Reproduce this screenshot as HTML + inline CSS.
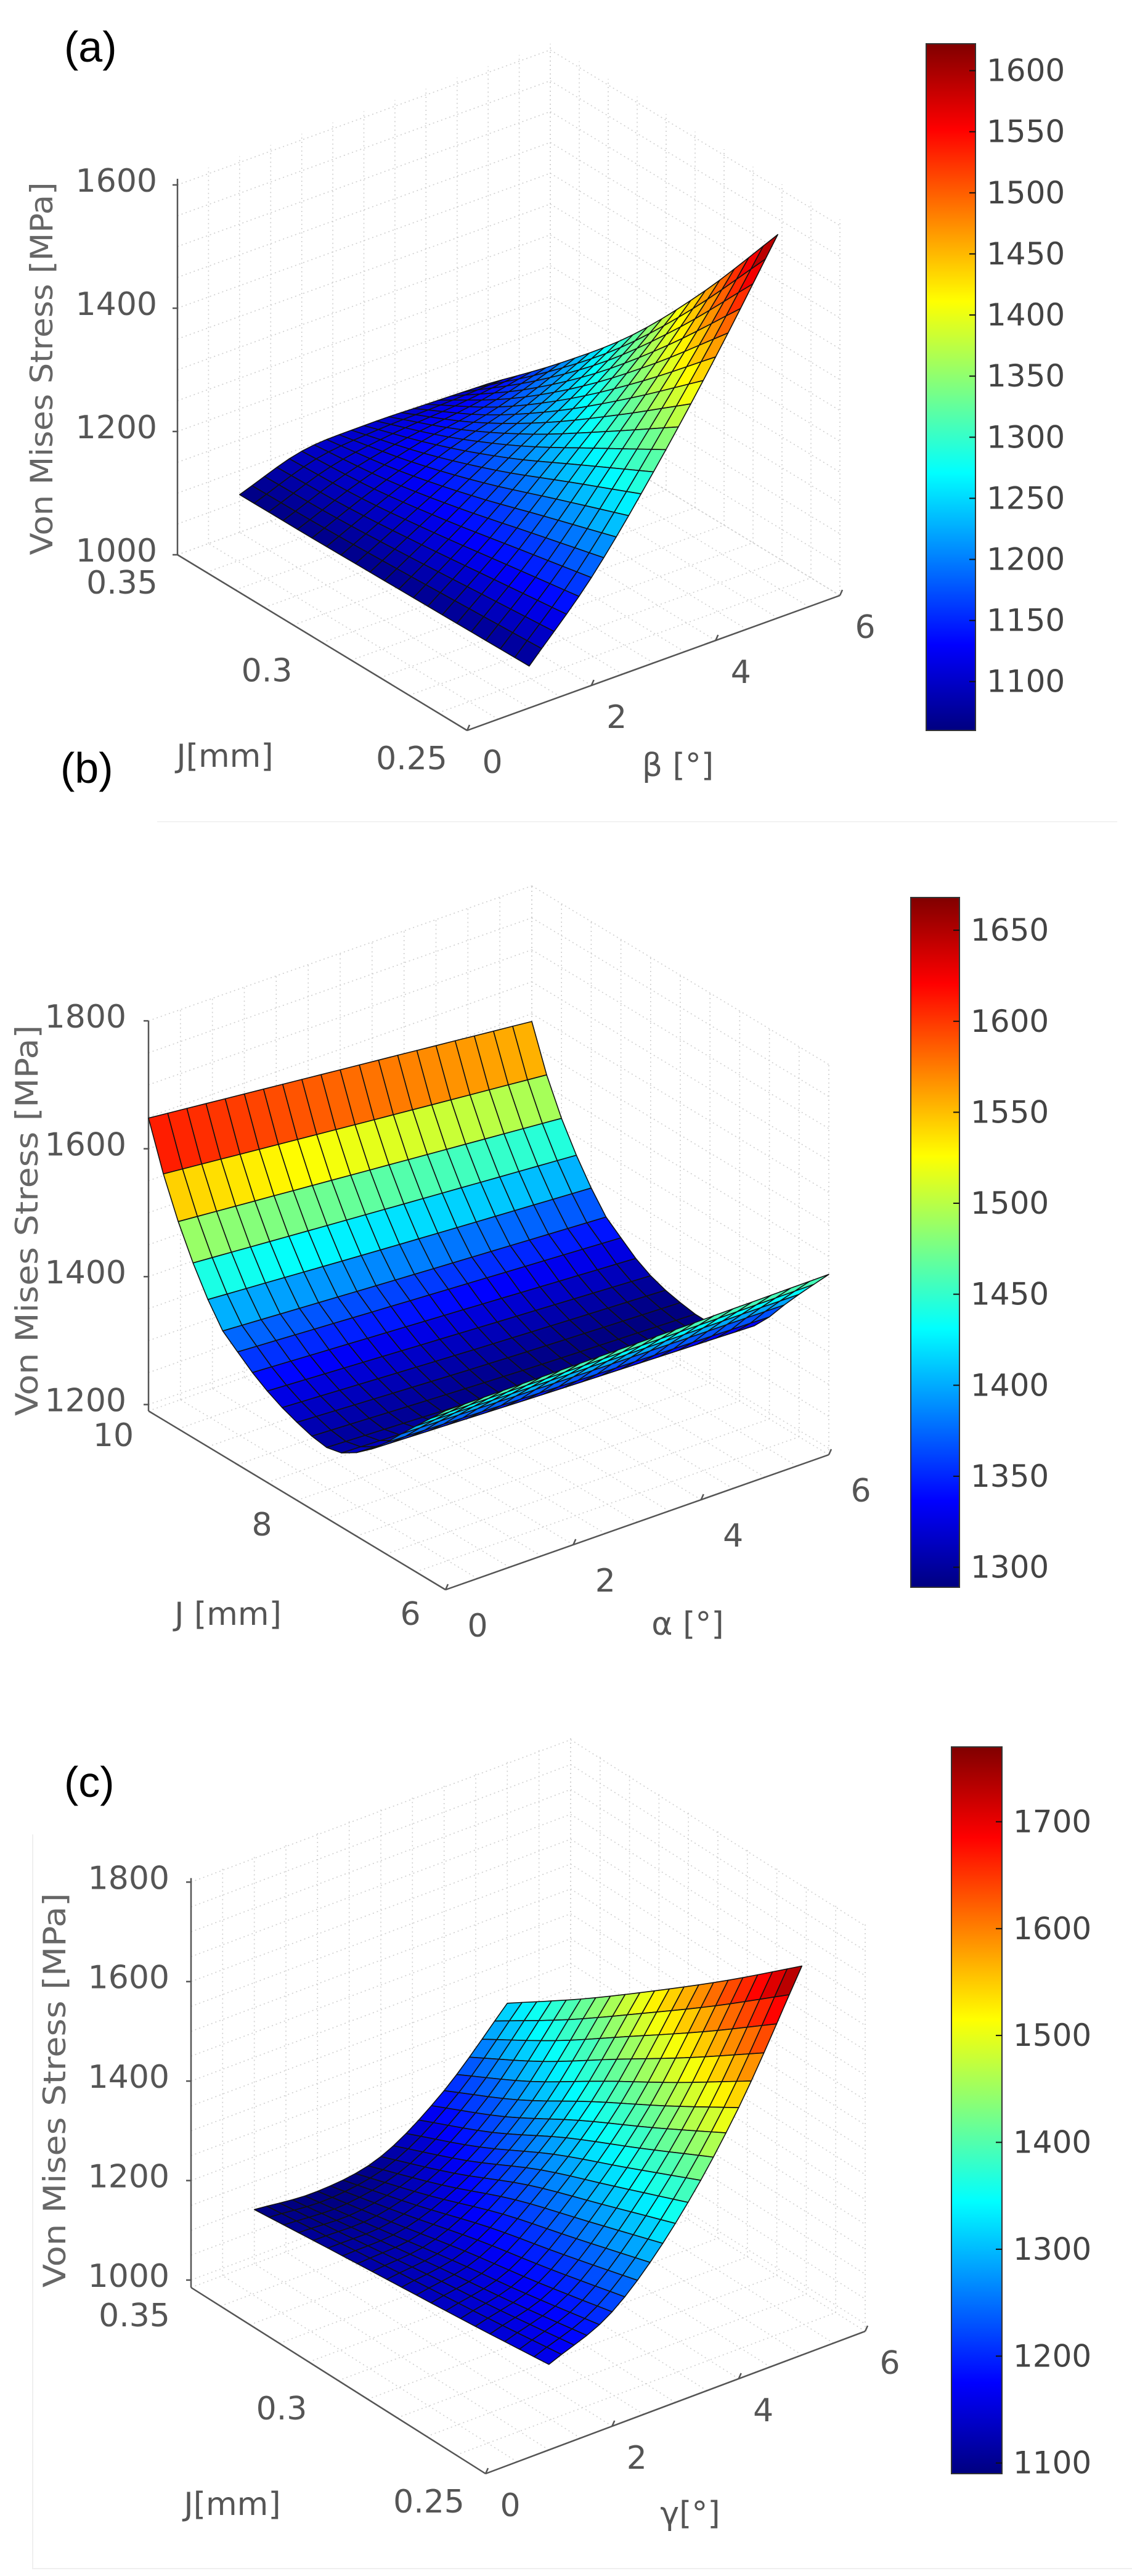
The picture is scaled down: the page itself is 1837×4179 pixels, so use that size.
<!DOCTYPE html>
<html><head><meta charset="utf-8"><style>
html,body{margin:0;padding:0;background:#fff;}
svg{display:block;}
</style></head><body>
<svg id="fig" xmlns="http://www.w3.org/2000/svg" width="1837" height="4179" viewBox="0 0 1837 4179">
<defs>
<linearGradient id="jetg" x1="0" y1="1" x2="0" y2="0">
<stop offset="0" stop-color="rgb(0,0,128)"/><stop offset="0.125" stop-color="rgb(0,0,255)"/>
<stop offset="0.375" stop-color="rgb(0,255,255)"/><stop offset="0.625" stop-color="rgb(255,255,0)"/>
<stop offset="0.875" stop-color="rgb(255,0,0)"/><stop offset="1" stop-color="rgb(128,0,0)"/>
</linearGradient>
</defs>
<line x1="255" y1="1333" x2="1813" y2="1333" stroke="#f2f2f2" stroke-width="2"/>
<polyline points="53,2976 53,4167 1837,4167" fill="none" stroke="#efefef" stroke-width="2"/>
<text x="104" y="100" font-family="Liberation Sans, sans-serif" font-size="70">(a)</text>
<text x="98" y="1270" font-family="Liberation Sans, sans-serif" font-size="70">(b)</text>
<text x="104" y="2915" font-family="Liberation Sans, sans-serif" font-size="70">(c)</text>
</svg>
<script>
// ---------- Panel (a) data ----------
const aJ = [0.25, 0.275, 0.3, 0.325, 0.35];
const aAng = [1, 2, 3, 4, 5];
const aZ = [
  [1068, 1175, 1310, 1460, 1622],
  [1066, 1150, 1250, 1350, 1460],
  [1064, 1125, 1190, 1250, 1317],
  [1062, 1105, 1140, 1165, 1200],
  [1061, 1095, 1100, 1098, 1095]
];
const aClim = [1060, 1622];
const aZTicks = [1000, 1200, 1400, 1600];
const aJTicks = [0.25, 0.3, 0.35];
const aJTickLabels = ["0.25", "0.3", "0.35"];
const aAngTicks = [0, 2, 4, 6];
const aCbTicks = [1100, 1150, 1200, 1250, 1300, 1350, 1400, 1450, 1500, 1550, 1600];

// ---------- Panel (b) data ----------
const bJ = [6, 6.5, 7, 7.5, 8, 8.5, 9, 9.25, 9.5, 9.75, 10];
const bAng = [0, 3, 6];
const bZ = [
  [1470, 1470, 1472],
  [1405, 1400, 1398],
  [1340, 1330, 1322],
  [1302, 1292, 1286],
  [1312, 1298, 1288],
  [1340, 1324, 1308],
  [1385, 1368, 1352],
  [1430, 1410, 1392],
  [1488, 1465, 1442],
  [1558, 1530, 1503],
  [1648, 1618, 1588]
];
const bClim = [1289, 1668];
const bZTicks = [1200, 1400, 1600, 1800];
const bJTicks = [6, 8, 10];
const bJTickLabels = ["6", "8", "10"];
const bAngTicks = [0, 2, 4, 6];
const bCbTicks = [1300, 1350, 1400, 1450, 1500, 1550, 1600, 1650];

// ---------- Panel (c) data ----------
const cJ = [0.25, 0.275, 0.3, 0.325, 0.35];
const cAng = [1, 2, 3, 4, 5];
const cZ = [
  [1157, 1215, 1345, 1530, 1767],
  [1140, 1180, 1290, 1440, 1645],
  [1125, 1150, 1235, 1355, 1530],
  [1110, 1115, 1165, 1265, 1420],
  [1094, 1083, 1105, 1190, 1318]
];
const cClim = [1090, 1770];
const cZTicks = [1000, 1200, 1400, 1600, 1800];
const cJTicks = [0.25, 0.3, 0.35];
const cJTickLabels = ["0.25", "0.3", "0.35"];
const cAngTicks = [0, 2, 4, 6];
const cCbTicks = [1100, 1200, 1300, 1400, 1500, 1600, 1700];

const NS = "http://www.w3.org/2000/svg";
const svg = document.getElementById("fig");

function mk(tag, attrs, parent) {
  const e = document.createElementNS(NS, tag);
  for (const k in attrs) e.setAttribute(k, attrs[k]);
  (parent || svg).appendChild(e);
  return e;
}
function clamp(x){return Math.max(0, Math.min(1, x));}
function jet(t) {
  t = clamp(t);
  const r = clamp(1.5 - Math.abs(4*t - 3)), g = clamp(1.5 - Math.abs(4*t - 2)), b = clamp(1.5 - Math.abs(4*t - 1));
  return "rgb(" + Math.round(r*255) + "," + Math.round(g*255) + "," + Math.round(b*255) + ")";
}
function seg(nodes, x) {
  let i = 0;
  while (i < nodes.length - 2 && x > nodes[i+1]) i++;
  const t = (x - nodes[i]) / (nodes[i+1] - nodes[i]);
  return [i, t];
}
function cr(vals, i, t) {
  const n = vals.length;
  const p1 = vals[i], p2 = vals[i+1];
  const p0 = i > 0 ? vals[i-1] : 2*p1 - p2;
  const p3 = i+2 < n ? vals[i+2] : 2*p2 - p1;
  const t2 = t*t, t3 = t2*t;
  return 0.5*((2*p1) + (-p0 + p2)*t + (2*p0 - 5*p1 + 4*p2 - p3)*t2 + (-p0 + 3*p1 - 3*p2 + p3)*t3);
}
function interp(Jn, An, Z, J, A) {
  const [i, s] = seg(Jn, J), [j, t] = seg(An, A);
  const col = Z.map(row => An.length > 2 ? cr(row, j, t) : row[j]*(1-t) + row[j+1]*t);
  return cr(col, i, s);
}

function drawPanel(p) {
  const g = mk("g", {});
  
  
  const P = (J, A, z) => {
    const u = (J - p.Jmin) / (p.Jmax - p.Jmin), v = A / p.angMax, w = (z - p.zmin) * p.k;
    return [p.F[0] + u*p.Jv[0] + v*p.Av[0], p.F[1] + u*p.Jv[1] + v*p.Av[1] - w];
  };
  const L = (a, b, attrs, name) => {
    const e = mk("line", Object.assign({x1:a[0].toFixed(1), y1:a[1].toFixed(1), x2:b[0].toFixed(1), y2:b[1].toFixed(1)}, attrs), g);
    
    
    return e;
  };
  const dot = {stroke:"#cfcfcf", "stroke-width":"1.6", "stroke-dasharray":"2,5"};
  const zt = p.zmin, zT = p.zTop;
  for (let A = 0; A <= p.angMax + 1e-9; A += 0.5) {
    L(P(p.Jmax, A, zt), P(p.Jmax, A, zT), dot, "grid-line");
    L(P(p.Jmin, A, zt), P(p.Jmax, A, zt), dot, "grid-line");
  }
  for (let J = p.Jmin; J <= p.Jmax + 1e-9; J += p.Jstep) {
    L(P(J, p.angMax, zt), P(J, p.angMax, zT), dot, "grid-line");
    L(P(J, 0, zt), P(J, p.angMax, zt), dot, "grid-line");
  }
  for (let z = Math.ceil(zt/50)*50; z <= zT + 1e-9; z += 50) {
    L(P(p.Jmax, 0, z), P(p.Jmax, p.angMax, z), dot, "grid-line");
    L(P(p.Jmax, p.angMax, z), P(p.Jmin, p.angMax, z), dot, "grid-line");
  }
  const ax = {stroke:"#555", "stroke-width":"2.5"};
  L(P(p.Jmax, 0, zt), P(p.Jmax, 0, zT), ax, "z-axis");
  L(P(p.Jmax, 0, zt), P(p.Jmin, 0, zt), ax, "j-axis");
  L(P(p.Jmin, 0, zt), P(p.Jmin, p.angMax, zt), ax, "angle-axis");
  const font = "DejaVu Sans, Liberation Sans, sans-serif";
  p.zTicks.forEach(z => {
    const q = P(p.Jmax, 0, z);
    L(q, [q[0]-8, q[1]], ax, "z-tick");
    const t = mk("text", {x:(q[0]-p.zLabDx).toFixed(1), y:(q[1]-6).toFixed(1), "text-anchor":"end", "dominant-baseline":"central", "font-family":font, "font-size":"52", fill:"#555"}, g);
    
    
    t.textContent = String(z);
  });
  p.jTicks.forEach((J, i) => {
    const q = P(J, 0, zt);
    const t = mk("text", {x:(q[0]+p.jOff[0]).toFixed(1), y:(q[1]+p.jOff[1]).toFixed(1), "text-anchor":"middle", "dominant-baseline":"central", "font-family":font, "font-size":"52", fill:"#555"}, g);
    
    
    t.textContent = p.jLabels[i];
  });
  p.angTicks.forEach(A => {
    const q = P(p.Jmin, A, zt);
    L(q, [q[0]+4, q[1]-9], ax, "angle-tick");
    const t = mk("text", {x:(q[0]+p.aOff[0]).toFixed(1), y:(q[1]+p.aOff[1]).toFixed(1), "text-anchor":"middle", "dominant-baseline":"central", "font-family":font, "font-size":"52", fill:"#555"}, g);
    
    
    t.textContent = String(A);
  });
  let t = mk("text", {x:p.jTitle[0], y:p.jTitle[1], "text-anchor":"middle", "dominant-baseline":"central", "font-family":font, "font-size":"52", fill:"#555"}, g);
  
  
  t.textContent = p.jTitleText;
  t = mk("text", {x:p.aTitle[0], y:p.aTitle[1], "text-anchor":"middle", "dominant-baseline":"central", "font-family":font, "font-size":"52", fill:"#555"}, g);
  
  
  t.textContent = p.aTitleText;
  t = mk("text", {x:0, y:0, "text-anchor":"middle", "dominant-baseline":"central", "font-family":font, "font-size":"50", fill:"#666", textLength:p.yTitleLen, lengthAdjust:"spacingAndGlyphs", transform:"translate(" + p.yTitle[0] + "," + p.yTitle[1] + ") rotate(-90)"}, g);
  
  
  t.textContent = "Von Mises Stress [MPa]";
  const N = 20, J0 = p.J[0], J1 = p.J[p.J.length-1], A0 = p.ang[0], A1 = p.ang[p.ang.length-1];
  const cells = [];
  const Lu = Math.hypot(p.Jv[0], p.Jv[1]), Lv = Math.hypot(p.Av[0], p.Av[1]);
  for (let i = 0; i < N; i++) for (let j = 0; j < N; j++) {
    const Js = [J0 + (J1-J0)*i/N, J0 + (J1-J0)*(i+1)/N];
    const As = [A0 + (A1-A0)*j/N, A0 + (A1-A0)*(j+1)/N];
    const corners = [[Js[0],As[0]],[Js[1],As[0]],[Js[1],As[1]],[Js[0],As[1]]];
    let zs = 0, pts = [];
    corners.forEach(c => { const z = interp(p.J, p.ang, p.Z, c[0], c[1]); zs += z; pts.push(P(c[0], c[1], z)); });
    const zm = zs/4;
    const u = ((Js[0]+Js[1])/2 - p.Jmin)/(p.Jmax-p.Jmin), v = ((As[0]+As[1])/2)/p.angMax;
    const depth = -(u*Lu + v*Lv) + 0.5*(zm - p.zmin)*p.k;
    cells.push({pts, zm, depth});
  }
  cells.sort((a, b) => a.depth - b.depth);
  cells.forEach(c => {
    const e = mk("polygon", {points:c.pts.map(q => q[0].toFixed(1) + "," + q[1].toFixed(1)).join(" "), fill:jet((c.zm - p.clim[0])/(p.clim[1]-p.clim[0])), stroke:"#111", "stroke-width":"1.6", "stroke-linejoin":"round"}, g);
    
    
  });
  const cb = p.cb;
  const r = mk("rect", {x:cb[0], y:cb[1], width:cb[2]-cb[0], height:cb[3]-cb[1], fill:"url(#jetg)", stroke:"#333", "stroke-width":"2"}, g);
  
  
  p.cbTicks.forEach(val => {
    const y = cb[3] - (val - p.clim[0])/(p.clim[1]-p.clim[0])*(cb[3]-cb[1]);
    L([cb[2], y], [cb[2]-10, y], {stroke:"#111", "stroke-width":"2"}, "colorbar-tick");
    const tt = mk("text", {x:cb[2]+18, y:y.toFixed(1), "dominant-baseline":"central", "font-family":font, "font-size":"50", fill:"#444"}, g);
    
    
    tt.textContent = String(val);
  });
}

drawPanel({name:"panel-a-chart", J:aJ, ang:aAng, Z:aZ, clim:aClim, zTicks:aZTicks, jTicks:aJTicks, jLabels:aJTickLabels, angTicks:aAngTicks, cbTicks:aCbTicks,
  Jmin:0.25, Jmax:0.35, angMax:6, zmin:1000, zTop:1610, k:1.0, F:[758,1185], Jv:[-470,-285], Av:[605,-219], Jstep:0.01,
  zLabDx:33, jOff:[-90,46], aOff:[41,52], jTitle:[365,1227], jTitleText:"J[mm]", aTitle:[1100,1242], aTitleText:"β [°]",
  yTitle:[68,598], yTitleLen:605, cb:[1503,71,1583,1185]});
drawPanel({name:"panel-b-chart", J:bJ, ang:bAng, Z:bZ, clim:bClim, zTicks:bZTicks, jTicks:bJTicks, jLabels:bJTickLabels, angTicks:bAngTicks, cbTicks:bCbTicks,
  Jmin:6, Jmax:10, angMax:6, zmin:1190, zTop:1800, k:1.0375, F:[723,2579], Jv:[-482,-290], Av:[622,-219], Jstep:0.4,
  zLabDx:36, jOff:[-57,40], aOff:[52,59], jTitle:[370,2619], jTitleText:"J [mm]", aTitle:[1116,2635], aTitleText:"α [°]",
  yTitle:[44,1980], yTitleLen:634, cb:[1478,1456,1557,2575]});
drawPanel({name:"panel-c-chart", J:cJ, ang:cAng, Z:cZ, clim:cClim, zTicks:cZTicks, jTicks:cJTicks, jLabels:cJTickLabels, angTicks:cAngTicks, cbTicks:cCbTicks,
  Jmin:0.25, Jmax:0.35, angMax:6, zmin:985, zTop:1808, k:0.807, F:[788,4013], Jv:[-478,-302], Av:[616,-231], Jstep:0.01,
  zLabDx:35, jOff:[-92,46], aOff:[40,52], jTitle:[377,4063], jTitleText:"J[mm]", aTitle:[1120,4078], aTitleText:"γ[°]",
  yTitle:[89,3391], yTitleLen:640, cb:[1544,2834,1626,4013]});
</script>
</body></html>
